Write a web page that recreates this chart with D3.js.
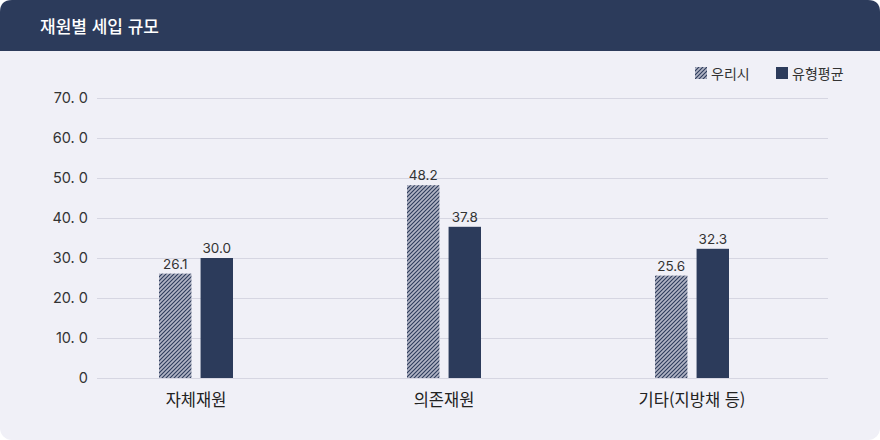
<!DOCTYPE html>
<html lang="ko">
<head>
<meta charset="utf-8">
<script src="https://cdn.jsdelivr.net/npm/d3@7"></script>
<style>
  html, body { margin: 0; padding: 0; background: #fff; }
  svg { display: block; font-family: "Noto Sans CJK KR", "Noto Sans", sans-serif; }
</style>
</head>
<body>
<svg id="chart" width="880" height="440"></svg>
<script>
const title = "재원별 세입 규모";
const categories = ["자체재원", "의존재원", "기타(지방채 등)"];
const seriesNames = ["우리시", "유형평균"];
const ourCity = [26.1, 48.2, 25.6];
const typeAvg = [30.0, 37.8, 32.3];
const yTicks = [0, 10, 20, 30, 40, 50, 60, 70];

const navy = "#2c3b5b";
const bg = "#f0f0f7";

const svg = d3.select("#chart");
const W = 880, H = 440;

// card background
svg.append("rect").attr("width", W).attr("height", H).attr("rx", 12).attr("fill", bg);
// header
svg.append("path")
    .attr("d", `M0,51 V12 Q0,0 12,0 H${W - 12} Q${W},0 ${W},12 V51 Z`)
    .attr("fill", navy);
svg.append("text").attr("x", 40).attr("y", 33)
    .attr("fill", "#fff").attr("font-size", 17).attr("font-weight", 500)
    .text(title);

// hatch pattern
const defs = svg.append("defs");
const pat = defs.append("pattern").attr("id", "hatch")
    .attr("patternUnits", "userSpaceOnUse").attr("width", 4).attr("height", 4);
pat.append("rect").attr("width", 4).attr("height", 4).attr("fill", "#b2b5c5");
pat.append("path").attr("d", "M-1,1 l2,-2 M0,4 l4,-4 M3,5 l2,-2")
    .attr("stroke", navy).attr("stroke-width", 1.1);

const y = d3.scaleLinear().domain([0, 70]).range([378, 98]);
const x = d3.scaleBand().domain(categories).range([72, 816]);
const xs = d3.scaleBand().domain(seriesNames).range([-37, 37]).paddingInner(0.22);

// grid + y axis
const yAxis = svg.append("g").attr("transform", "translate(97,0)")
    .call(d3.axisLeft(y).tickValues(yTicks).tickSize(-731).tickPadding(9)
        .tickFormat(d => d === 0 ? "0" : d3.format(".1f")(d).replace(".", ". ")));
yAxis.select(".domain").remove();
yAxis.selectAll(".tick line").attr("stroke", "#d6d6e2");
yAxis.selectAll(".tick text").attr("fill", "#333").attr("font-size", 14.5)
    .attr("font-family", "Inter, Roboto, sans-serif");

// x axis labels
const xAxis = svg.append("g").attr("transform", "translate(0,378)")
    .call(d3.axisBottom(x).tickSize(0).tickPadding(16));
xAxis.select(".domain").remove();
xAxis.selectAll(".tick text").attr("fill", "#222").attr("font-size", 16.5)
    .attr("font-family", "'Noto Sans CJK KR', sans-serif");

const rows = categories.map((c, i) => ({ c, vals: [ourCity[i], typeAvg[i]] }));
const groups = svg.append("g").selectAll("g").data(rows).join("g")
    .attr("transform", d => `translate(${x(d.c) + x.bandwidth() / 2},0)`);

const bars = groups.selectAll("g").data(d => d.vals.map((v, j) => ({ v, s: seriesNames[j] }))).join("g");
bars.append("rect")
    .attr("x", d => xs(d.s)).attr("width", xs.bandwidth())
    .attr("y", d => y(d.v)).attr("height", d => y(0) - y(d.v))
    .attr("fill", d => d.s === seriesNames[0] ? "url(#hatch)" : navy);
bars.append("text")
    .attr("x", d => xs(d.s) + xs.bandwidth() / 2).attr("y", d => y(d.v) - 5)
    .attr("text-anchor", "middle").attr("fill", "#333").attr("font-size", 13.5)
    .attr("font-family", "Inter, Roboto, sans-serif")
    .text(d => d3.format(".1f")(d.v));

// legend
const legend = svg.append("g").attr("transform", "translate(695,67)");
const li = legend.selectAll("g").data(seriesNames).join("g")
    .attr("transform", (d, i) => `translate(${i * 81},0)`);
li.append("rect").attr("width", 12).attr("height", 12)
    .attr("fill", (d, i) => i === 0 ? "url(#hatch)" : navy);
li.append("text").attr("x", 16).attr("y", 11.5).attr("font-size", 14).attr("fill", "#333")
    .text(d => d);
</script>
</body>
</html>
